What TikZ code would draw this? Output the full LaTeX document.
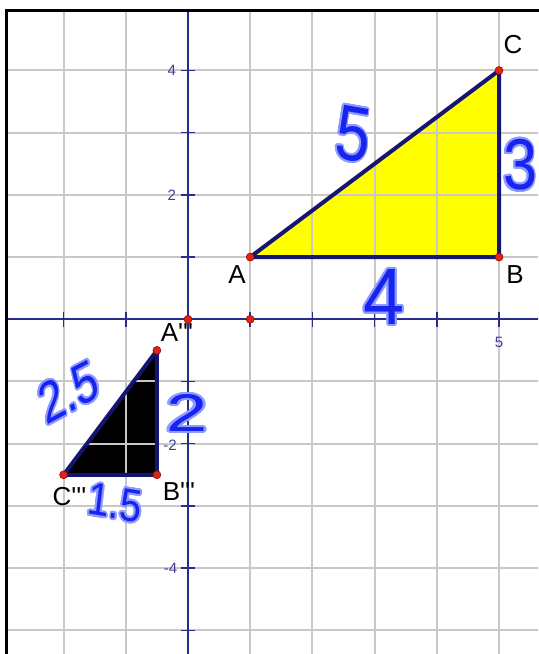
\documentclass[tikz,border=0pt]{standalone}
\usepackage{fontspec}
\setmainfont{Liberation Sans}
\newfontfamily\lab{Liberation Sans}
\usepackage[copies]{contour}
\contourlength{2pt}
\definecolor{gridc}{RGB}{200,200,200}
\definecolor{axisc}{RGB}{40,45,140}
\definecolor{edgec}{RGB}{20,20,115}
\definecolor{dotc}{RGB}{225,35,15}
\definecolor{ticklab}{RGB}{70,60,150}
\definecolor{hand}{RGB}{25,35,240}
\definecolor{halo}{RGB}{140,155,255}
\definecolor{yfill}{RGB}{255,255,0}
\tikzset{
 gridline/.style={gridc, line width=2pt},
 axisline/.style={axisc, line width=1.8pt},
 tickmark/.style={axisc, line width=1.5pt},
 edge/.style={edgec, line width=4pt, line join=round},
 vdot/.style={circle, fill=dotc, draw=red!55!black, line width=0.5pt, inner sep=0pt, minimum size=8pt},
 vlab/.style={font=\lab\fontsize{26}{26}\selectfont, text=black, inner sep=0pt},
 ticklabel/.style={font=\lab\fontsize{15}{15}\selectfont, text=ticklab, inner sep=0pt},
 handw/.style={inner sep=0pt, text=hand},
}
\begin{document}
\begin{tikzpicture}[x=62.2pt,y=62.2pt]
\useasboundingbox (-3.0225,-5.381) rectangle (5.627,5.133);
\fill[white] (-3.0225,-5.381) rectangle (5.627,5.133);
% vertices
\coordinate (A) at (1,1);
\coordinate (B) at (5,1);
\coordinate (C) at (5,4);
\coordinate (A3) at (-0.5,-0.5);
\coordinate (B3) at (-0.5,-2.5);
\coordinate (C3) at (-2,-2.5);
\coordinate (O) at (0,0);
\coordinate (P) at (1,0);
% fills
\fill[yfill] (A) -- (B) -- (C) -- cycle;
\fill[black] (A3) -- (B3) -- (C3) -- cycle;
% grid
\begin{scope}
\clip (-2.926,-5.381) rectangle (5.627,4.957);
\foreach \i in {-2,...,5} \draw[gridline] (\i,-5.5) -- (\i,5.2);
\foreach \j in {-5,...,4} \draw[gridline] (-3.1,\j) -- (5.7,\j);
% axes
\draw[axisline] (-3.1,0) -- (5.7,0);
\draw[axisline] (0,-5.5) -- (0,5.2);
\foreach \i in {-2,-1,1,2,3,4,5} \draw[tickmark] (\i,-0.12) -- (\i,0.12);
\foreach \j in {-5,...,-1,1,2,3,4} \draw[tickmark] (-0.12,\j) -- (0.12,\j);
\end{scope}
% border
\draw[black, line width=3pt] (-2.926,-5.45) -- (-2.926,4.957) -- (5.7,4.957);
% tick labels
\node[ticklabel, anchor=east] (t4) at (-0.19,4) {4};
\node[ticklabel, anchor=east] (t2) at (-0.19,2) {2};
\node[ticklabel, anchor=east] (tm2) at (-0.18,-2.02) {-2};
\node[ticklabel, anchor=east] (tm4) at (-0.17,-4) {-4};
\node[ticklabel] (t5) at (5,-0.37) {5};
% edges
\draw[edge] (A) -- (B) -- (C) -- cycle;
\draw[edge] (A3) -- (B3) -- (C3) -- cycle;
% dots
\foreach \p in {A,B,C,A3,B3,C3,O,P} \node[vdot] at (\p) {};
% vertex labels
\node[vlab] (lC) at (5.225,4.41) {C};
\node[vlab] (lA) at (0.788,0.712) {A};
\node[vlab] (lB) at (5.257,0.712) {B};
\node[vlab] (lA3) at (-0.177,-0.221) {A'''};
\node[vlab] (lB3) at (-0.145,-2.777) {B'''};
\node[vlab] (lC3) at (-1.905,-2.857) {C'''};
% handwritten lengths
\node[handw, font=\lab\fontsize{78}{78}\selectfont, xscale=0.8, rotate=-8] (h5) at (2.653,2.962) {\contour{halo}{5}};
\node[handw, font=\lab\fontsize{72}{72}\selectfont, xscale=0.85] (h3) at (5.338,2.465) {\contour{halo}{3}};
\node[handw, font=\lab\fontsize{80}{80}\selectfont, xscale=0.92] (h4) at (3.151,0.342) {\contour{halo}{4}};
\node[handw, font=\lab\fontsize{58}{58}\selectfont, xscale=0.75, rotate=22] (h25) at (-1.913,-1.185) {\contour{halo}{2.5}};
\node[handw, font=\lab\fontsize{53}{53}\selectfont, xscale=1.4] (h2) at (-0.016,-1.522) {\contour{halo}{2}};
\node[handw, font=\lab\fontsize{46}{46}\selectfont, xscale=0.85, rotate=-8] (h15) at (-1.174,-2.969) {\contour{halo}{1.5}};
\end{tikzpicture}
\end{document}
